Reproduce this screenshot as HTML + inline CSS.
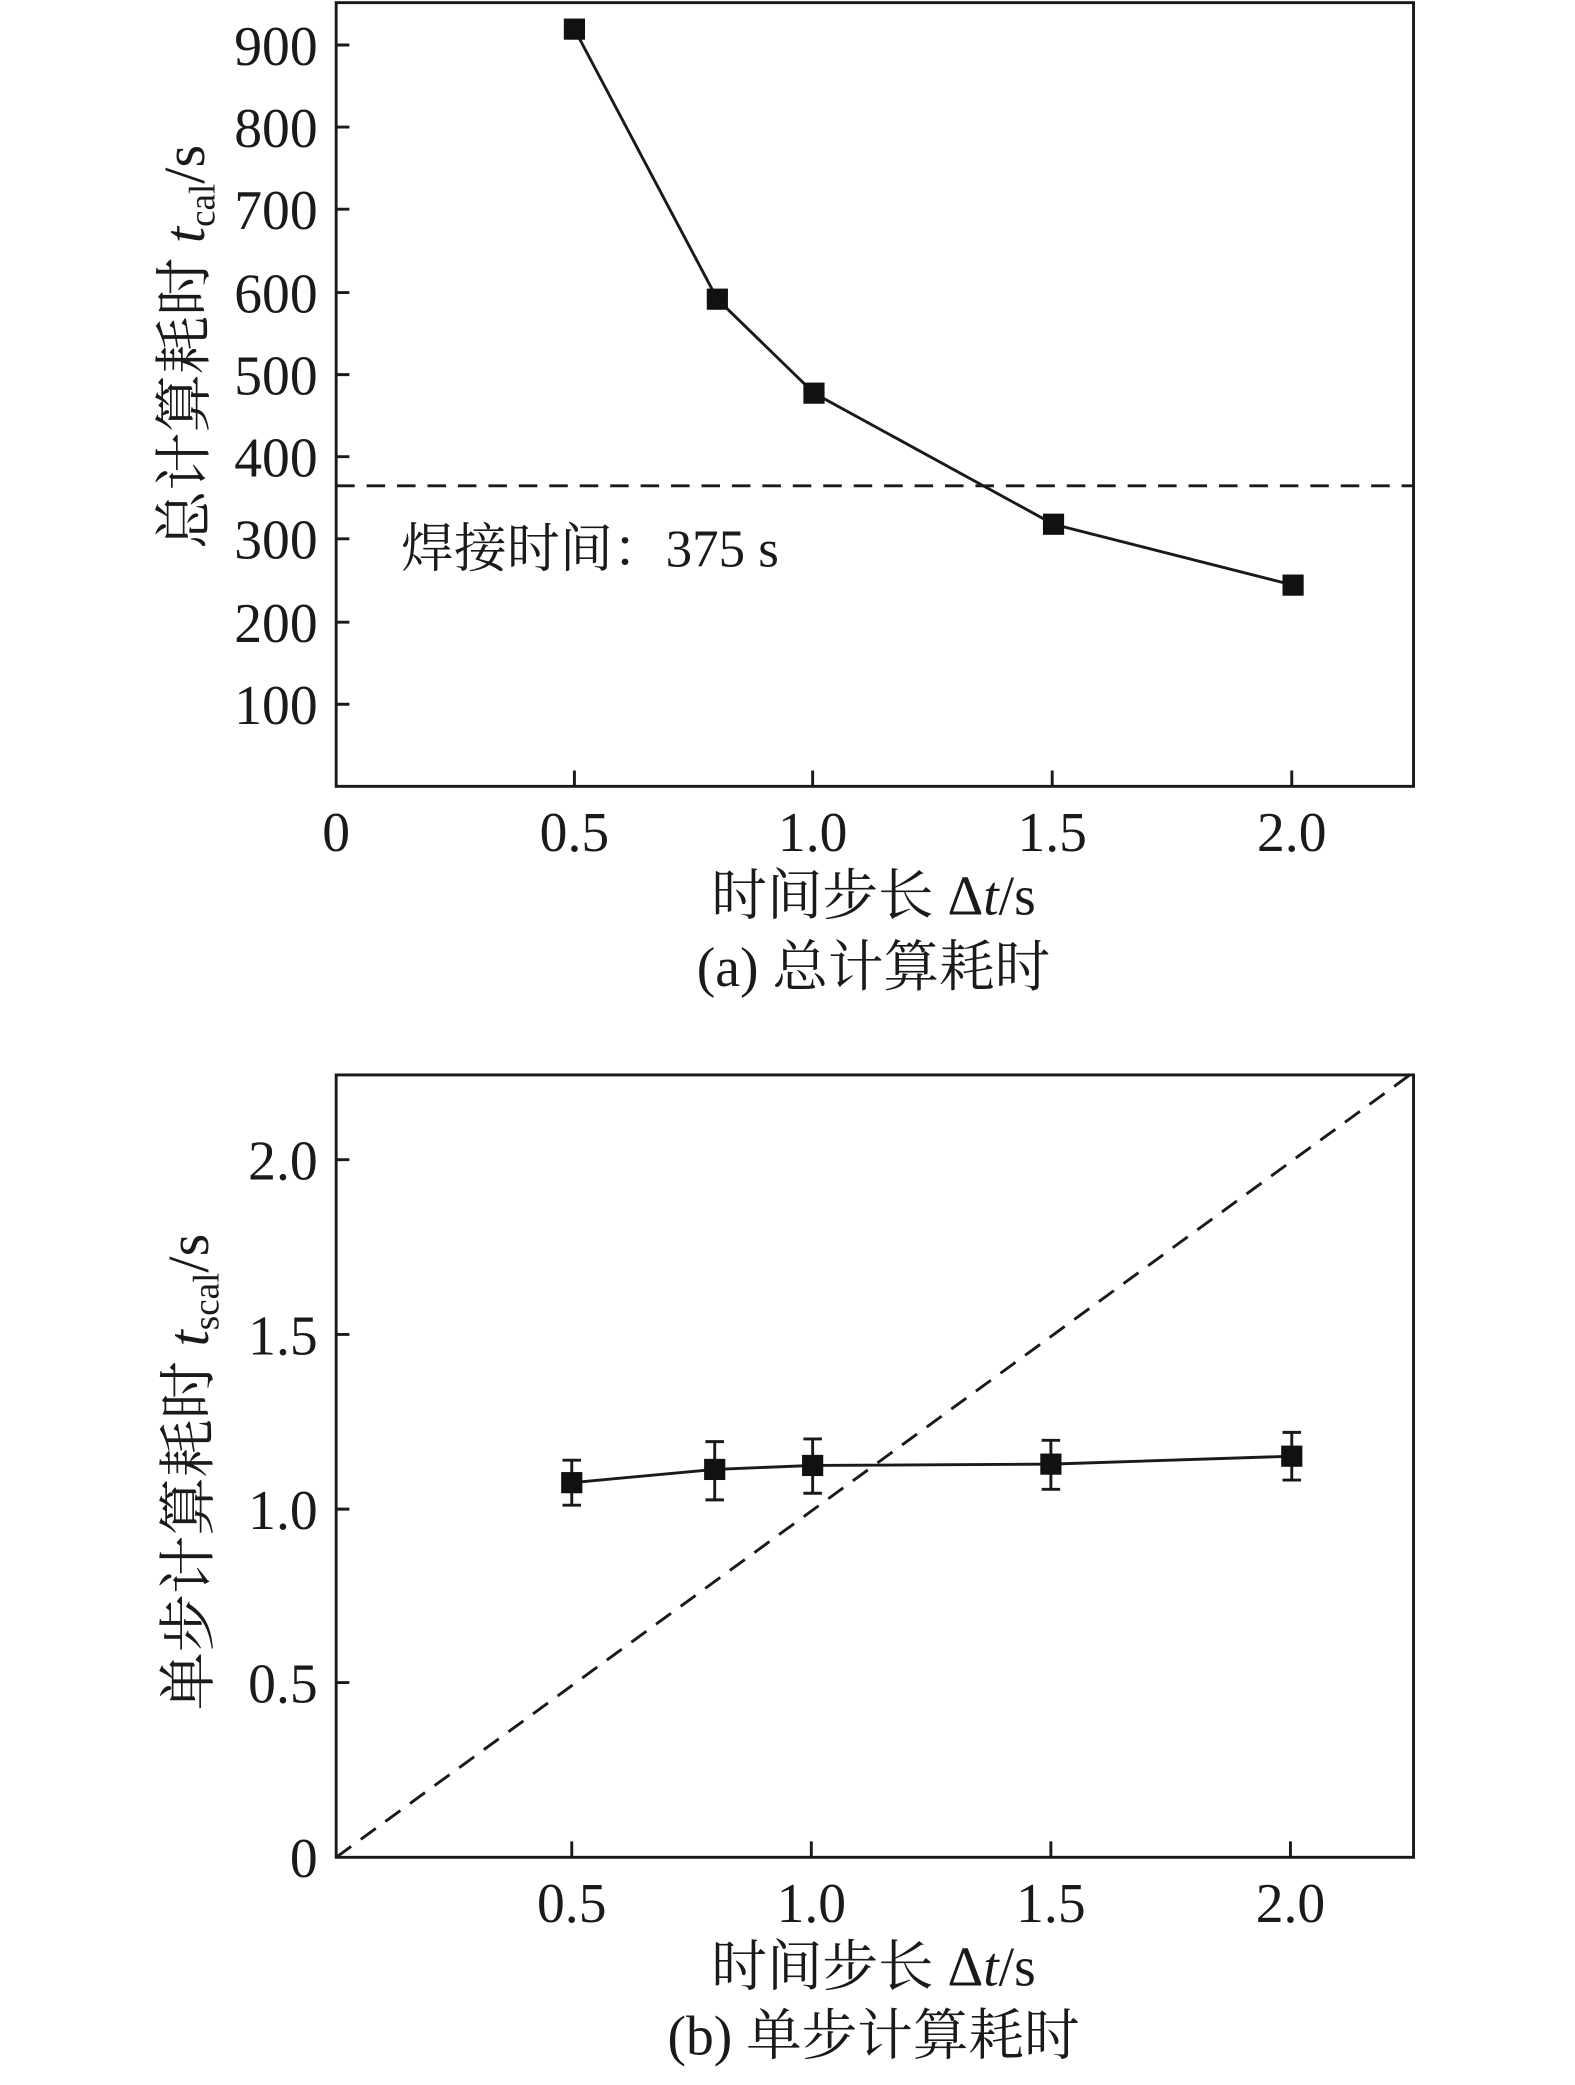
<!DOCTYPE html>
<html><head><meta charset="utf-8"><style>html,body{margin:0;padding:0;background:#fff}svg{display:block}</style></head>
<body>
<svg width="1575" height="2085" viewBox="0 0 1190 1575" preserveAspectRatio="none" xmlns="http://www.w3.org/2000/svg" font-family="Liberation Serif, Noto Serif CJK SC, serif" fill="#1a1a1a">
<g stroke="#1a1a1a" stroke-width="2.2" fill="none">
<rect x="254" y="2" width="814" height="592"/>
<path d="M254 34h10M254 96h10M254 158h10M254 221h10M254 283h10M254 345h10M254 407h10M254 470h10M254 532h10"/>
<path d="M434 594v-12M614 594v-12M795 594v-12M976 594v-12"/>
<path d="M434 22L542 226L615 297L796 396L977 442"/>
<path d="M254 367H1068" stroke-dasharray="14,9"/>
<rect x="254" y="812" width="814" height="591"/>
<path d="M254 876h10M254 1008h10M254 1140h10M254 1271h10"/>
<path d="M432 1403v-12M613 1403v-12M794 1403v-12M975 1403v-12"/>
<path d="M254 1403L1068 810" stroke-dasharray="14,9"/>
<path d="M432 1120L540 1110L614 1107L794 1106L976 1100"/>
<path d="M432 1103v34M425 1103h14M425 1137h14 M540 1089v44M533 1089h14M533 1133h14 M614 1087v41M607 1087h14M607 1128h14 M794 1088v37M787 1088h14M787 1125h14 M976 1082v36M969 1082h14M969 1118h14"/>
</g>
<g fill="#111">
<rect x="426" y="14" width="16" height="16"/><rect x="534" y="218" width="16" height="16"/><rect x="607" y="289" width="16" height="16"/><rect x="788" y="388" width="16" height="16"/><rect x="969" y="434" width="16" height="16"/>
<rect x="424" y="1112" width="16" height="16"/><rect x="532" y="1102" width="16" height="16"/><rect x="606" y="1099" width="16" height="16"/><rect x="786" y="1098" width="16" height="16"/><rect x="968" y="1092" width="16" height="16"/>
</g>
<g font-size="42" text-anchor="end">
<text x="240" y="49">900</text><text x="240" y="111">800</text><text x="240" y="173">700</text><text x="240" y="236">600</text><text x="240" y="298">500</text><text x="240" y="360">400</text><text x="240" y="422">300</text><text x="240" y="485">200</text><text x="240" y="547">100</text>
<text x="240" y="891">2.0</text><text x="240" y="1023">1.5</text><text x="240" y="1155">1.0</text><text x="240" y="1286">0.5</text><text x="240" y="1418">0</text>
</g>
<g font-size="42" text-anchor="middle">
<text x="254" y="643">0</text><text x="434" y="643">0.5</text><text x="614" y="643">1.0</text><text x="795" y="643">1.5</text><text x="976" y="643">2.0</text>
<text x="432" y="1452">0.5</text><text x="613" y="1452">1.0</text><text x="794" y="1452">1.5</text><text x="975" y="1452">2.0</text>
</g>
<g font-size="42" text-anchor="middle">
<text x="660" y="691">时间步长 Δ<tspan font-style="italic">t</tspan>/s</text>
<text x="660" y="745">(a) 总计算耗时</text>
<text x="660" y="1500">时间步长 Δ<tspan font-style="italic">t</tspan>/s</text>
<text x="660" y="1552">(b) 单步计算耗时</text>
</g>
<text x="303" y="428" font-size="40">焊接时间：375 s</text>
<text transform="translate(154,262) rotate(-90)" text-anchor="middle" font-size="44">总计算耗时 <tspan font-style="italic">t</tspan><tspan font-size="28" dy="8">cal</tspan><tspan dy="-8">/s</tspan></text>
<text transform="translate(157,1112) rotate(-90)" text-anchor="middle" font-size="44">单步计算耗时 <tspan font-style="italic">t</tspan><tspan font-size="28" dy="8">scal</tspan><tspan dy="-8">/s</tspan></text>
</svg>
</body></html>
